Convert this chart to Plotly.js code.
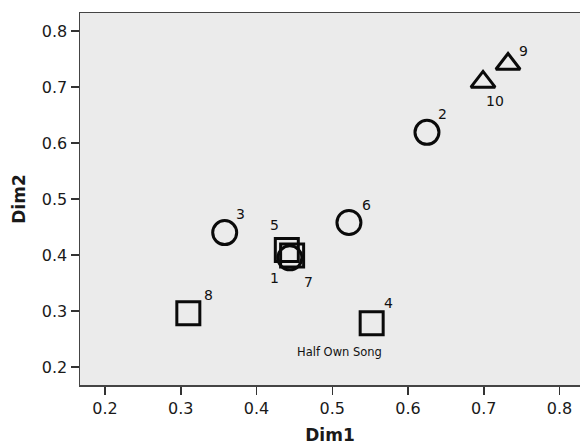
<!DOCTYPE html>
<html>
<head>
<meta charset="utf-8">
<script src="https://cdn.plot.ly/plotly-3.0.1.min.js"></script>
<style>html,body{margin:0;padding:0;background:#fff}#chart{width:580px;height:446px}</style>
</head>
<body>
<div id="chart"></div>
<script>
// Data
const circleIds = ['2', '3', '6', '1'];
const circleX = [0.625, 0.358, 0.522, 0.444];
const circleY = [0.619, 0.440, 0.458, 0.395];

const squareIds = ['8', '4', '5', '7'];
const squareX = [0.310, 0.552, 0.440, 0.447];
const squareY = [0.296, 0.278, 0.409, 0.399];

const triangleIds = ['9', '10'];
const triangleX = [0.732, 0.699];
const triangleY = [0.741, 0.709];

const xTicks = [0.2, 0.3, 0.4, 0.5, 0.6, 0.7, 0.8];
const yTicks = [0.2, 0.3, 0.4, 0.5, 0.6, 0.7, 0.8];

const groupNoteText = 'Half Own Song';
const groupNoteAnchorId = '4';

// Label offsets (pixels) for each point number — styling only
const labelShift = {
  '2': [16, -18], '3': [16, -19], '6': [18, -18], '1': [-15, 20],
  '8': [20, -18], '4': [17, -20], '5': [-12, -25], '7': [16, 26],
  '9': [15, -13], '10': [12, 19]
};

const lineStyle = {color: '#0a0a0a', width: 3};
const traces = [
  {x: squareX, y: squareY, text: squareIds, mode: 'markers', type: 'scatter',
   marker: {symbol: 'square-open', size: 23, color: '#0a0a0a', line: lineStyle}, hoverinfo: 'text'},
  {x: circleX, y: circleY, text: circleIds, mode: 'markers', type: 'scatter',
   marker: {symbol: 'circle-open', size: 24, color: '#0a0a0a', line: lineStyle}, hoverinfo: 'text'},
  {x: triangleX, y: triangleY, text: triangleIds, mode: 'markers', type: 'scatter',
   marker: {symbol: 'triangle-up-open', size: 21, color: '#0a0a0a', line: lineStyle}, hoverinfo: 'text'}
];

const annotations = [];
function addLabels(ids, xs, ys) {
  ids.forEach((id, i) => {
    const s = labelShift[id] || [14, -16];
    annotations.push({x: xs[i], y: ys[i], xref: 'x', yref: 'y', text: id, showarrow: false,
      xshift: s[0], yshift: -s[1], font: {family: 'DejaVu Sans, sans-serif', size: 14, color: '#111'}});
  });
}
addLabels(circleIds, circleX, circleY);
addLabels(squareIds, squareX, squareY);
addLabels(triangleIds, triangleX, triangleY);

const ai = squareIds.indexOf(groupNoteAnchorId);
annotations.push({x: squareX[ai], y: squareY[ai], xref: 'x', yref: 'y', text: groupNoteText,
  showarrow: false, xshift: -32, yshift: -29,
  font: {family: 'DejaVu Sans, sans-serif', size: 11.5, color: '#111'}});

const layout = {
  width: 580, height: 446,
  margin: {l: 80, r: 0, t: 13, b: 61},
  paper_bgcolor: '#ffffff',
  plot_bgcolor: '#ebebeb',
  showlegend: false,
  font: {family: 'DejaVu Sans, sans-serif', color: '#111'},
  xaxis: {
    range: [0.167, 0.827], tickvals: xTicks, ticktext: xTicks.map(v => v.toFixed(1)),
    ticks: 'outside', ticklen: 8, tickwidth: 1.5, tickcolor: '#333',
    showgrid: false, zeroline: false, showline: true, linecolor: '#444', linewidth: 1.5,
    mirror: true,
    tickfont: {size: 16, color: '#1a1a1a'},
    title: {text: '<b>Dim1</b>', font: {size: 17, color: '#1a1a1a'}, standoff: 12}
  },
  yaxis: {
    range: [0.168, 0.832], tickvals: yTicks, ticktext: yTicks.map(v => v.toFixed(1)),
    ticks: 'outside', ticklen: 8, tickwidth: 1.5, tickcolor: '#333',
    showgrid: false, zeroline: false, showline: true, linecolor: '#444', linewidth: 1.5,
    mirror: false,
    tickfont: {size: 16, color: '#1a1a1a'},
    title: {text: '<b>Dim2</b>', font: {size: 17, color: '#1a1a1a'}, standoff: 12}
  },
  annotations: annotations
};

Plotly.newPlot('chart', traces, layout, {displayModeBar: false, staticPlot: true});
</script>
</body>
</html>
